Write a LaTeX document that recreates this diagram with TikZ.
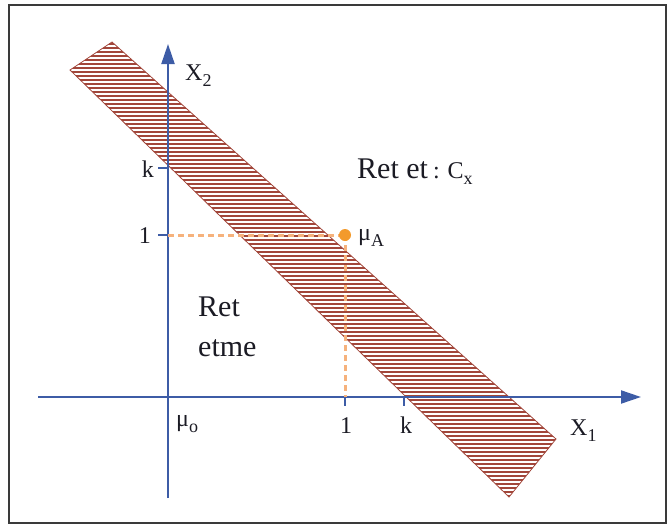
\documentclass[tikz,border=0pt]{standalone}
\usepackage{fontspec}
\setmainfont{Liberation Serif}
\usepackage{tikz}
\usetikzlibrary{arrows.meta}
\definecolor{AxisBlue}{HTML}{3D5CA6}
\definecolor{Hatch}{HTML}{A2463A}
\definecolor{Dash}{HTML}{F6B27C}
\definecolor{Dot}{HTML}{F39A2B}
\definecolor{Ink}{HTML}{1B1B24}
\definecolor{Frame}{HTML}{3A3A3A}
\newcommand{\lowsub}[1]{\raisebox{-6pt}{\fontsize{18}{20}\selectfont #1}}

\begin{document}
\begin{tikzpicture}[x=1pt,y=-1pt,>={Triangle[length=20pt,width=13pt]},
  axis/.style={AxisBlue,line width=2pt},
  tick/.style={AxisBlue,line width=1.6pt},
  guide/.style={Dash,line width=3pt,dash pattern=on 6pt off 4pt},
  lbl/.style={text=Ink,inner sep=0pt,font=\fontsize{24}{28}\selectfont},
  big/.style={text=Ink,inner sep=0pt,font=\fontsize{30}{40}\selectfont}]
  \useasboundingbox (0,0) rectangle (670,525);
  \draw[Frame,line width=2pt] (9,5) rectangle (666,523);
  % hatched band
  \begin{scope}
    \clip (70,70) -- (112,42) -- (556,439) -- (509,497) -- cycle;
    \foreach \y in {40,44,...,500}
      \draw[Hatch,line width=1.9pt] (60,\y) -- (570,\y);
  \end{scope}
  \draw[Hatch,line width=0.8pt] (70,70) -- (112,42) -- (556,439) -- (509,497) -- cycle;
  % axes
  \coordinate (O) at (168,397);
  \coordinate (xs) at (38,397);  \coordinate (xe) at (641,397);
  \coordinate (ys) at (168,498); \coordinate (ye) at (168,44);
  \coordinate (k2) at (168,168); \coordinate (one2) at (168,235);
  \coordinate (one1) at (345,397); \coordinate (k1) at (404,397);
  \draw[axis,->] (xs) -- (xe);
  \draw[axis,->] (ys) -- (ye);
  \draw[tick] (k2) -- ++(-10,0);
  \draw[tick] (one2) -- ++(-10,0);
  \draw[tick] (one1) -- ++(0,9);
  \draw[tick] (k1) -- ++(0,9);
  % point mu_A
  \coordinate (muA) at (345,235);
  \draw[guide] (one2) -- (muA);
  \draw[guide] (muA) -- (one1);
  \fill[Dot] (muA) circle (6pt);
  % labels
  \node[lbl,anchor=base west] (lx2) at (185,80) {X\lowsub{2}};
  \node[lbl,anchor=base west] (lx1) at (570,435) {X\lowsub{1}};
  \node[lbl,anchor=base east] (lk2) at (154,177) {k};
  \node[lbl,anchor=base east] (lone2) at (151,243) {1};
  \node[lbl,anchor=base] (lone1) at (346,433) {1};
  \node[lbl,anchor=base] (lk1) at (406,433) {k};
  \node[lbl,anchor=base west] (lmuo) at (176,426) {μ\lowsub{o}};
  \node[lbl,anchor=base west] (lmuA) at (358,240) {μ\lowsub{A}};
  \node[big,anchor=base west] (crit) at (357,178) {Ret et\,{\fontsize{24}{28}\selectfont: C\lowsub{x}}};
  \node[big,anchor=north west,align=left] (acc) at (198,297) {Ret\\etme};
\end{tikzpicture}
\end{document}
